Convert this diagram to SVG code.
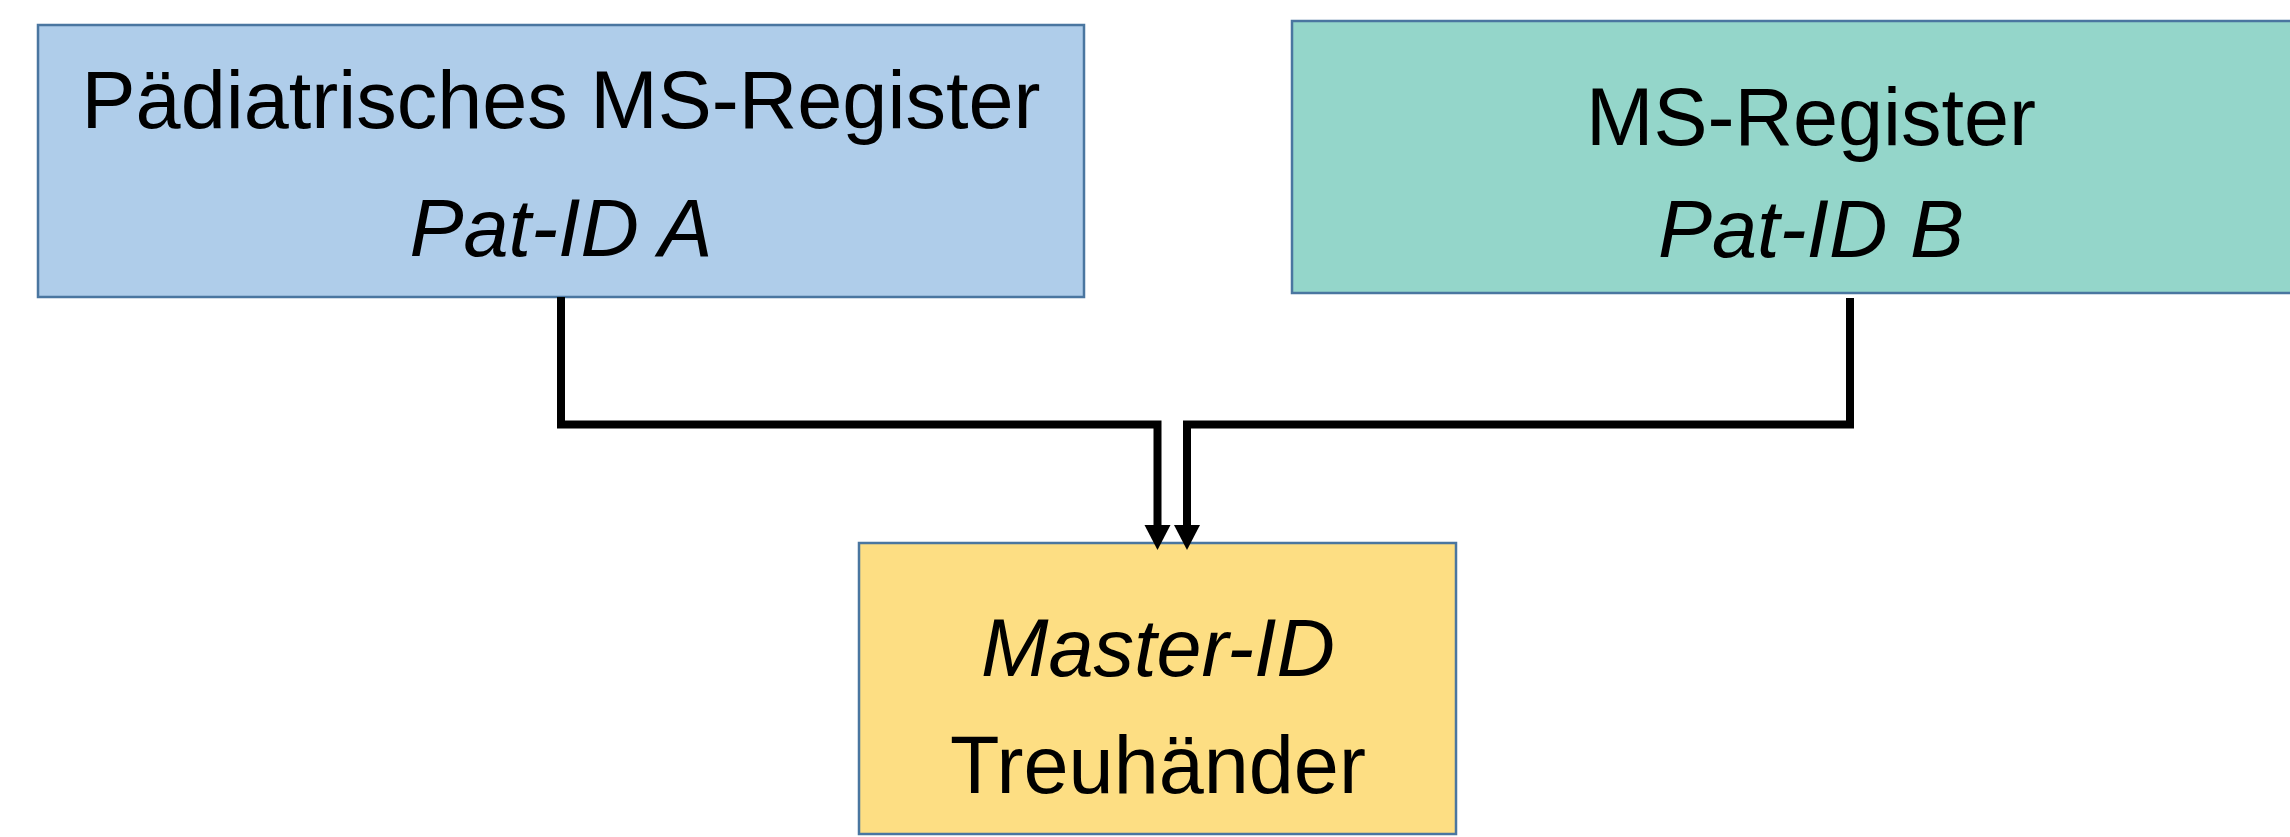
<svg xmlns="http://www.w3.org/2000/svg" width="2290" height="837" viewBox="0 0 2290 837">
  <style>
    .box { stroke: #4A76A0; stroke-width: 2.5; }
    .label { font-family: "Liberation Sans", Arial, sans-serif; font-size: 81px; fill: #000; text-anchor: middle; }
    .it { font-style: italic; }
    .wire { fill: none; stroke: #000; stroke-width: 8; stroke-linejoin: miter; stroke-linecap: butt; }
  </style>
  <defs>
    <!-- solid triangular head; its base sits on the path end -->
    <marker id="arrow" markerUnits="userSpaceOnUse" viewBox="0 0 25 26" markerWidth="25" markerHeight="26" refX="0" refY="13" orient="auto" overflow="visible">
      <path d="M0,0 L25,13 L0,26 Z" fill="#000"/>
    </marker>
  </defs>
  <rect width="2290" height="837" fill="#fff"/>

  <g id="registry-a">
    <rect class="box" x="38" y="25" width="1046" height="272" fill="#AFCDEA"/>
    <text class="label" x="561" y="128">Pädiatrisches MS-Register</text>
    <text class="label it" x="561" y="256">Pat-ID A</text>
  </g>

  <g id="registry-b">
    <rect class="box" x="1292" y="21" width="1040" height="272" fill="#94D6CA"/>
    <text class="label" x="1811" y="145">MS-Register</text>
    <text class="label it" x="1811" y="257">Pat-ID B</text>
  </g>

  <g id="trustee">
    <rect class="box" x="859" y="543" width="597" height="291" fill="#FDDE83"/>
    <text class="label it" x="1158" y="676">Master-ID</text>
    <text class="label" x="1158" y="793">Treuhänder</text>
  </g>

  <g id="connectors">
    <path class="wire" d="M561,297 V424.5 H1157.5 V525" marker-end="url(#arrow)"/>
    <path class="wire" d="M1850,298 V424.5 H1187 V525" marker-end="url(#arrow)"/>
  </g>
</svg>
